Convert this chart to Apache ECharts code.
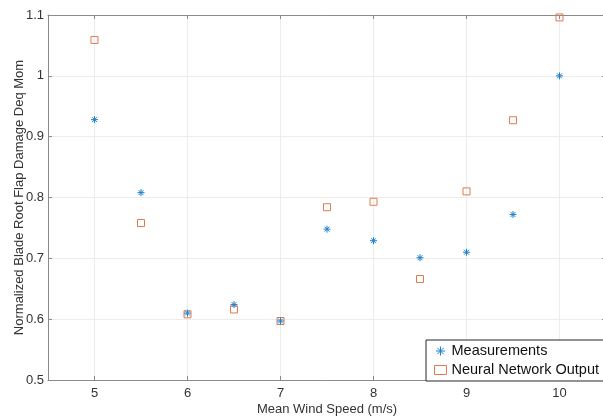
<!DOCTYPE html>
<html>
<head>
<meta charset="utf-8">
<script src="https://cdn.jsdelivr.net/npm/echarts@6/dist/echarts.min.js"></script>
<style>
html,body{margin:0;padding:0;background:#fff;}
#main{width:603px;height:416px;}
</style>
</head>
<body>
<div id="main"></div>
<script>
var windSpeed = [5, 5.5, 6, 6.5, 7, 7.5, 8, 8.5, 9, 9.5, 10];
var measurements = [0.928, 0.808, 0.610, 0.624, 0.597, 0.748, 0.729, 0.701, 0.710, 0.772, 1.000];
var nnOutput = [1.059, 0.758, 0.608, 0.616, 0.597, 0.784, 0.793, 0.666, 0.810, 0.927, 1.096];
var xTicks = [5, 6, 7, 8, 9, 10];
var yTicks = [0.5, 0.6, 0.7, 0.8, 0.9, 1, 1.1];

var starPath = 'path://M0,-5L0,5M-5,0L5,0M-3.5,-3.5L3.5,3.5M-3.5,3.5L3.5,-3.5';
var blue = '#1f80cc';
var orange = '#e07a4f';
var txt = '#333333';
var axisCol = '#8a8a8a';
var font = 'Liberation Sans, Arial, sans-serif';

function pairs(xs, ys){ return xs.map(function(x,i){ return [x, ys[i]]; }); }

var chart = echarts.init(document.getElementById('main'), null, {renderer:'canvas'});
var xCommon = {type:'value', min:4.5, max:10.5, interval:0.5};
var yCommon = {type:'value', min:0.5, max:1.1, interval:0.1};
chart.setOption({
  animation:false,
  backgroundColor:'#fff',
  grid:{left:48, top:15, width:558, height:365, containLabel:false, outerBoundsMode:'none'},
  xAxis:[
    Object.assign({}, xCommon, {
      position:'bottom',
      name:'Mean Wind Speed (m/s)', nameLocation:'middle', nameGap:23, nameMoveOverlap:false,
      nameTextStyle:{color:txt, fontSize:13, fontFamily:font},
      axisLine:{show:true, lineStyle:{color:axisCol, width:1}},
      axisTick:{show:true, inside:true, length:4, customValues:xTicks, lineStyle:{color:axisCol}},
      axisLabel:{color:txt, fontSize:13, fontFamily:font, margin:7, customValues:xTicks,
        formatter:function(v){ return String(v); }},
      splitLine:{show:true, lineStyle:{color:'#ececec', width:1}}
    }),
    Object.assign({}, xCommon, {
      position:'top',
      axisLine:{show:true, lineStyle:{color:axisCol, width:1}},
      axisTick:{show:true, inside:true, length:4, customValues:xTicks, lineStyle:{color:axisCol}},
      axisLabel:{show:false}, splitLine:{show:false}
    })
  ],
  yAxis:[
    Object.assign({}, yCommon, {
      position:'left',
      name:'Normalized Blade Root Flap Damage Deq Mom', nameLocation:'middle', nameGap:22, nameMoveOverlap:false,
      nameTextStyle:{color:txt, fontSize:13, fontFamily:font},
      axisLine:{show:true, lineStyle:{color:axisCol, width:1}},
      axisTick:{show:true, inside:true, length:4, lineStyle:{color:axisCol}},
      axisLabel:{color:txt, fontSize:13, fontFamily:font, margin:4,
        formatter:function(v){ var r = Math.round(v*10)/10; return yTicks.indexOf(r) >= 0 ? String(r) : ''; }},
      splitLine:{show:true, lineStyle:{color:'#ececec', width:1}}
    }),
    Object.assign({}, yCommon, {
      position:'right',
      axisLine:{show:true, lineStyle:{color:axisCol, width:1}},
      axisTick:{show:true, inside:true, length:4, lineStyle:{color:axisCol}},
      axisLabel:{show:false}, splitLine:{show:false}
    })
  ],
  legend:{
    orient:'vertical', left:426, top:340,
    padding:[3, 10, 3, 6],
    itemWidth:12, itemHeight:9, itemGap:3,
    backgroundColor:'#fff', borderColor:'#262626', borderWidth:1,
    textStyle:{color:'#111', fontSize:14.5, fontFamily:font, lineHeight:16},
    data:[
      {name:'Measurements', icon:starPath, itemStyle:{color:'none', borderColor:blue, borderWidth:1}},
      {name:'Neural Network Output', icon:'rect', itemStyle:{color:'none', borderColor:orange, borderWidth:1}}
    ]
  },
  series:[
    {
      name:'Measurements', type:'scatter', data:pairs(windSpeed, measurements),
      symbol:starPath, symbolSize:7,
      itemStyle:{color:'none', borderColor:blue, borderWidth:1, opacity:1},
      z:3
    },
    {
      name:'Neural Network Output', type:'scatter', data:pairs(windSpeed, nnOutput),
      symbol:'rect', symbolSize:7,
      itemStyle:{color:'none', borderColor:orange, borderWidth:1, opacity:1},
      z:2
    }
  ]
});
</script>
</body>
</html>
